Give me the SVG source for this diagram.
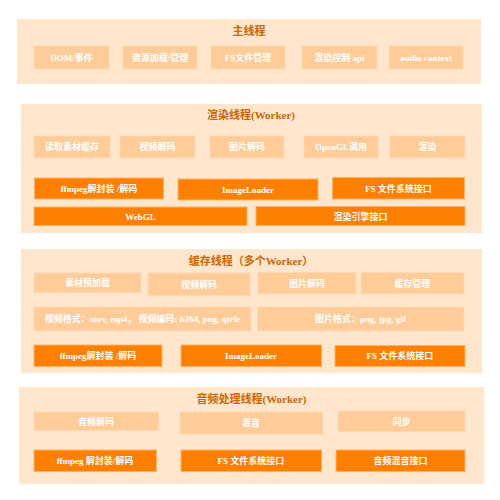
<svg xmlns="http://www.w3.org/2000/svg" width="500" height="500" viewBox="0 0 500 500">
<style>
.sec{fill:#FFE6CC;stroke:none}
.lt{fill:#FFCC99;stroke:#FFD9B3;stroke-width:0.8}
.dk{fill:#FF8000;stroke:#FFB366;stroke-width:1}
text{font-family:"Liberation Serif","Noto Sans CJK SC",serif;font-weight:bold;text-anchor:middle}
.t{font-size:11px;fill:#CC6600}
.i{font-size:9px;fill:#FFFFFF}
</style>
<rect width="500" height="500" fill="#FFFFFF"/>
<g id="main-thread">
<rect class="sec" x="17" y="19" width="464" height="65"/>
<text class="t" x="249" y="35">主线程</text>
<g id="m1"><rect class="lt" x="34" y="46" width="75" height="23"/><text class="i" x="71.5" y="60.5">DOM/事件</text></g>
<g id="m2"><rect class="lt" x="123" y="46" width="74" height="23"/><text class="i" x="160" y="60.5">资源加载/管理</text></g>
<g id="m3"><rect class="lt" x="211" y="46" width="74" height="23"/><text class="i" x="248" y="60.5">FS文件管理</text></g>
<g id="m4"><rect class="lt" x="302" y="46" width="75" height="23"/><text class="i" x="339.5" y="60.5">渲染控制 api</text></g>
<g id="m5"><rect class="lt" x="389" y="46" width="74" height="23"/><text class="i" x="426" y="60.5">audio context</text></g>
</g>
<g id="render-thread">
<rect class="sec" x="21" y="104" width="461" height="129"/>
<text class="t" x="251" y="119">渲染线程(Worker)</text>
<g id="r1"><rect class="lt" x="34" y="136" width="76" height="22"/><text class="i" x="72" y="150">读取素材缓存</text></g>
<g id="r2"><rect class="lt" x="120" y="136" width="75" height="22"/><text class="i" x="157.5" y="150">视频解码</text></g>
<g id="r3"><rect class="lt" x="210" y="136" width="74" height="22"/><text class="i" x="247" y="150">图片解码</text></g>
<g id="r4"><rect class="lt" x="304" y="136" width="74" height="22"/><text class="i" x="341" y="150">OpenGL调用</text></g>
<g id="r5"><rect class="lt" x="390" y="136" width="75" height="22"/><text class="i" x="427.5" y="150">渲染</text></g>
<g id="r6"><rect class="dk" x="34.5" y="178" width="129" height="21"/><text class="i" x="99" y="191.5">ffmpeg解封装 /解码</text></g>
<g id="r7"><rect class="dk" x="178" y="179" width="140" height="21"/><text class="i" x="248" y="192.5">ImageLoader</text></g>
<g id="r8"><rect class="dk" x="332.5" y="177.5" width="132" height="21.5"/><text class="i" x="398.5" y="191.5">FS 文件系统接口</text></g>
<g id="r9"><rect class="dk" x="34" y="207" width="213" height="18.5"/><text class="i" x="140.5" y="219.5">WebGL</text></g>
<g id="r10"><rect class="dk" x="256" y="206.5" width="209" height="19"/><text class="i" x="360.5" y="219.5">渲染引擎接口</text></g>
</g>
<g id="cache-thread">
<rect class="sec" x="21" y="249" width="461" height="124"/>
<text class="t" x="251" y="265">缓存线程（多个Worker）</text>
<g id="c1"><rect class="lt" x="34" y="273" width="107" height="19.5"/><text class="i" x="87.5" y="286">素材预加载</text></g>
<g id="c2"><rect class="lt" x="148" y="273" width="102" height="22.5"/><text class="i" x="199" y="287.5">视频解码</text></g>
<g id="c3"><rect class="lt" x="258" y="272.5" width="98" height="21.5"/><text class="i" x="307" y="286.5">图片解码</text></g>
<g id="c4"><rect class="lt" x="361" y="272.5" width="103" height="21.5"/><text class="i" x="412.5" y="286.5">缓存管理</text></g>
<g id="c5"><rect class="lt" x="34" y="307" width="217" height="24"/><text class="i" x="142.5" y="322">视频格式：mov, mp4， 视频编码: h264, png, qtrle</text></g>
<g id="c6"><rect class="lt" x="257.5" y="307" width="206.5" height="24"/><text class="i" x="360.5" y="322">图片格式：png, jpg, gif</text></g>
<g id="c7"><rect class="dk" x="34" y="345" width="128" height="21.5"/><text class="i" x="98" y="358.5">ffmpeg解封装 /解码</text></g>
<g id="c8"><rect class="dk" x="181" y="345" width="140.5" height="21.5"/><text class="i" x="251" y="358.5">ImageLoader</text></g>
<g id="c9"><rect class="dk" x="335" y="345.5" width="130" height="21"/><text class="i" x="400" y="359">FS 文件系统接口</text></g>
</g>
<g id="audio-thread">
<rect class="sec" x="19" y="387" width="465" height="97"/>
<text class="t" x="251.5" y="403">音频处理线程(Worker)</text>
<g id="a1"><rect class="lt" x="34" y="412" width="124.5" height="18.5"/><text class="i" x="96" y="424.5">音频解码</text></g>
<g id="a2"><rect class="lt" x="180" y="412" width="142.5" height="22"/><text class="i" x="251" y="426">混音</text></g>
<g id="a3"><rect class="lt" x="338" y="411" width="127" height="20.5"/><text class="i" x="401.5" y="424.5">同步</text></g>
<g id="a4"><rect class="dk" x="34" y="450" width="122.5" height="21.5"/><text class="i" x="95" y="463.5">ffmpeg 解封装/解码</text></g>
<g id="a5"><rect class="dk" x="181" y="450" width="140.5" height="21.5"/><text class="i" x="251" y="463.5">FS 文件系统接口</text></g>
<g id="a6"><rect class="dk" x="336" y="450" width="129" height="21.5"/><text class="i" x="400.5" y="463.5">音频混音接口</text></g>
</g>
<g id="connectors"></g>
</svg>
